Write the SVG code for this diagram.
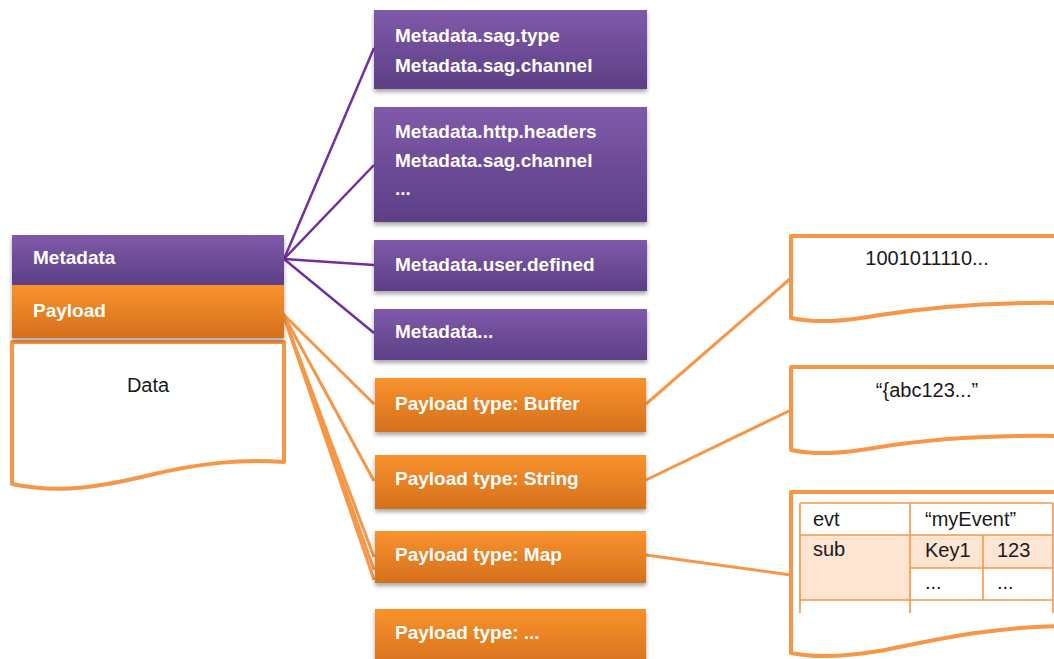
<svg xmlns="http://www.w3.org/2000/svg" width="1054" height="659" viewBox="0 0 1054 659">
<defs>
<linearGradient id="gp" x1="0" y1="0" x2="0" y2="1"><stop offset="0" stop-color="#7f5aaa"/><stop offset="1" stop-color="#5d3f86"/></linearGradient>
<linearGradient id="go" x1="0" y1="0" x2="0" y2="1"><stop offset="0" stop-color="#f9922c"/><stop offset="1" stop-color="#d5701d"/></linearGradient>
<filter id="sh" x="-5%" y="-10%" width="110%" height="130%"><feDropShadow dx="0" dy="3" stdDeviation="2" flood-color="#000" flood-opacity="0.35"/></filter>
</defs>
<style>
.pb{fill:url(#gp);filter:url(#sh)}
.ob{fill:url(#go);filter:url(#sh)}
.lb{font-family:"Liberation Sans",Arial,sans-serif;font-weight:bold;font-size:19px;fill:#fff}
.tx{font-family:"Liberation Sans",Arial,sans-serif;font-size:20px;fill:#1a1a1a}
.doc{fill:#fff;stroke:#f79646;stroke-width:4;stroke-linejoin:round}
.pc{stroke:#7030a0;stroke-width:2.5;fill:none}
.oc{stroke:#f79646;stroke-width:3;fill:none}
.tl{stroke:#f79646;stroke-width:1.6;fill:none}
</style>
<g id="connectors">
<line class="pc" x1="284" y1="259" x2="374" y2="48"/>
<line class="pc" x1="284" y1="259" x2="374" y2="165"/>
<line class="pc" x1="284" y1="259" x2="374" y2="265"/>
<line class="pc" x1="284" y1="259" x2="374" y2="333"/>
<line class="oc" x1="283" y1="314" x2="374" y2="404"/>
<line class="oc" x1="283" y1="314" x2="374" y2="481"/>
<line class="oc" x1="283" y1="314" x2="374" y2="557"/>
<line class="oc" x1="283" y1="314" x2="374" y2="570"/>
<line class="oc" x1="283" y1="314" x2="374" y2="580"/>
<line class="oc" x1="646" y1="404" x2="791" y2="278"/>
<line class="oc" x1="646" y1="480" x2="791" y2="410"/>
<line class="oc" x1="646" y1="555" x2="791" y2="575"/>
</g>
<g id="data-doc">
<path class="doc" d="M12,342 H284 V462 C240,459 200,463 150,475 C100,487 60,494 12,484 Z"/>
<text class="tx" x="148" y="392" text-anchor="middle" font-size="19">Data</text>
</g>
<g id="metadata">
<rect class="pb" x="12" y="235" width="272" height="50"/>
<text class="lb" x="33" y="264">Metadata</text>
</g>
<g id="payload">
<rect class="ob" x="12" y="285" width="272" height="53"/>
<text class="lb" x="33" y="317">Payload</text>
</g>
<g id="meta-sag">
<rect class="pb" x="374" y="10" width="273" height="79"/>
<text class="lb" x="395" y="42">Metadata.sag.type</text>
<text class="lb" x="395" y="72">Metadata.sag.channel</text>
</g>
<g id="meta-http">
<rect class="pb" x="374" y="107" width="273" height="115"/>
<text class="lb" x="395" y="138">Metadata.http.headers</text>
<text class="lb" x="395" y="167">Metadata.sag.channel</text>
<text class="lb" x="395" y="195">...</text>
</g>
<g id="meta-user">
<rect class="pb" x="374" y="240" width="273" height="51"/>
<text class="lb" x="395" y="271">Metadata.user.defined</text>
</g>
<g id="meta-more">
<rect class="pb" x="374" y="309" width="273" height="51"/>
<text class="lb" x="395" y="338">Metadata...</text>
</g>
<g id="pt-buffer">
<rect class="ob" x="375" y="378" width="271" height="54"/>
<text class="lb" x="395" y="410">Payload type: Buffer</text>
</g>
<g id="pt-string">
<rect class="ob" x="375" y="455" width="271" height="54"/>
<text class="lb" x="395" y="485">Payload type: String</text>
</g>
<g id="pt-map">
<rect class="ob" x="375" y="531" width="271" height="52"/>
<text class="lb" x="395" y="561">Payload type: Map</text>
</g>
<g id="pt-more">
<rect class="ob" x="375" y="609" width="271" height="60"/>
<text class="lb" x="395" y="639">Payload type: ...</text>
</g>
<g id="buffer-doc">
<path class="doc" d="M1062,236 H791 V318 C815,323 840,322 880,315 C930,307 990,302 1062,303"/>
<text class="tx" x="927" y="265" text-anchor="middle">1001011110...</text>
</g>
<g id="string-doc">
<path class="doc" d="M1062,367 H791 V450 C815,455 840,454 880,447 C930,439 990,435 1062,436"/>
<text class="tx" x="927" y="397" text-anchor="middle">“{abc123...”</text>
</g>
<g id="map-doc">
<path class="doc" d="M1062,492 H791 V653 C815,658 845,657 885,650 C935,640 990,627 1062,626"/>
<rect x="800" y="535" width="110" height="65" fill="#fde4d3"/>
<rect x="910" y="535" width="143" height="33" fill="#fde4d3"/>
<path class="tl" d="M800,503 H1053 M800,535 H1053 M910,568 H1053 M800,600 H1053 M800,503 V613 M910,503 V613 M983,535 V600 M1053,503 V613"/>
<text class="tx" x="813" y="526">evt</text>
<text class="tx" x="925" y="526">“myEvent”</text>
<text class="tx" x="813" y="556">sub</text>
<text class="tx" x="925" y="557">Key1</text>
<text class="tx" x="997" y="557">123</text>
<text class="tx" x="925" y="589">...</text>
<text class="tx" x="997" y="589">...</text>
</g>
</svg>
